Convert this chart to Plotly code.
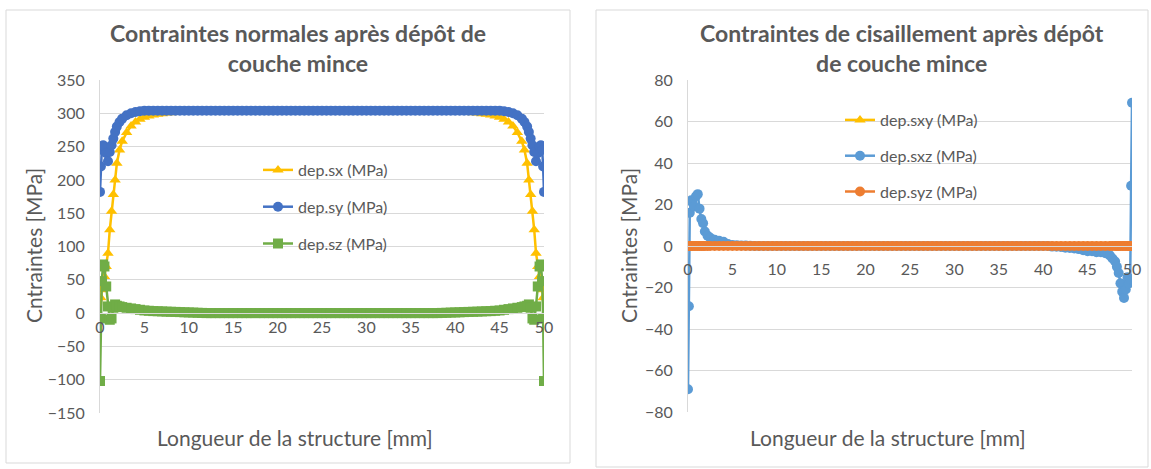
import plotly.graph_objects as go

# positions along the structure [mm]
X_MM = [0, 0.1, 0.2, 0.35, 0.5, 0.7, 0.9, 1.1, 1.3, 1.5, 1.7, 1.9, 2.2, 2.5, 3, 3.5, 4, 4.5,
        5, 5.5, 6, 6.5, 7, 7.5, 8, 8.5, 9, 9.5,
        10, 10.5, 11, 11.5, 12, 12.5, 13, 13.5, 14, 14.5,
        15, 15.5, 16, 16.5, 17, 17.5, 18, 18.5, 19, 19.5,
        20, 20.5, 21, 21.5, 22, 22.5, 23, 23.5, 24, 24.5,
        25, 25.5, 26, 26.5, 27, 27.5, 28, 28.5, 29, 29.5,
        30, 30.5, 31, 31.5, 32, 32.5, 33, 33.5, 34, 34.5,
        35, 35.5, 36, 36.5, 37, 37.5, 38, 38.5, 39, 39.5,
        40, 40.5, 41, 41.5, 42, 42.5, 43, 43.5, 44, 44.5,
        45,
        45.5, 46, 46.5, 47, 47.5, 47.8, 48.1, 48.3, 48.5, 48.7, 48.9, 49.1, 49.3, 49.5, 49.65, 49.8, 49.9, 50]

# normal stresses (MPa)
SX = [-8, 23, 35, 43, 55, 70, 90, 125, 153, 178, 200, 225, 245, 258, 271, 281, 287, 291,
      294, 296, 297.5, 298.5, 299.5, 300.5, 301, 301.5, 302, 302.5,
      303, 303, 303, 303, 303, 303, 303, 303, 303, 303,
      303, 303, 303, 303, 303, 303, 303, 303, 303, 303,
      303, 303, 303, 303, 303, 303, 303, 303, 303, 303,
      303, 303, 303, 303, 303, 303, 303, 303, 303, 303,
      303, 303, 303, 303, 303, 303, 303, 303, 303, 303,
      303, 303, 303, 303, 303, 303, 303, 303, 303, 303,
      303, 302.5, 302, 301.5, 301, 300.5, 299.5, 298.5, 297.5, 296,
      294,
      291, 287, 281, 271, 258, 245, 225, 200, 178, 153, 125, 90, 70, 55, 43, 35, 23, -8]
SY = [182, 220, 245, 252, 250, 240, 228, 242, 252, 262, 272, 280, 287, 292, 297, 300, 302, 303,
      304, 304, 304, 304, 304, 304, 304, 304, 304, 304,
      304, 304, 304, 304, 304, 304, 304, 304, 304, 304,
      304, 304, 304, 304, 304, 304, 304, 304, 304, 304,
      304, 304, 304, 304, 304, 304, 304, 304, 304, 304,
      304, 304, 304, 304, 304, 304, 304, 304, 304, 304,
      304, 304, 304, 304, 304, 304, 304, 304, 304, 304,
      304, 304, 304, 304, 304, 304, 304, 304, 304, 304,
      304, 304, 304, 304, 304, 304, 304, 304, 304, 304,
      304,
      303, 302, 300, 297, 292, 287, 280, 272, 262, 252, 242, 228, 240, 250, 252, 245, 220, 182]
SZ = [-102, -8, 48, 73, 70, 40, 10, -10, -8, 8, 13, 11, 10, 9, 8, 7, 6, 5,
      4, 3.5, 3, 2.8, 2.5, 2.2, 2, 1.8, 1.5, 1.2,
      1, 0.8, 0.5, 0.3, 0, 0, 0, 0, 0, 0,
      0, 0, 0, 0, 0, 0, 0, 0, 0, 0,
      0, 0, 0, 0, 0, 0, 0, 0, 0, 0,
      0, 0, 0, 0, 0, 0, 0, 0, 0, 0,
      0, 0, 0, 0, 0, 0, 0, 0, 0, 0,
      0, 0, 0, 0, 0, 0, 0, 0.3, 0.5, 0.8,
      1, 1.2, 1.5, 1.8, 2, 2.2, 2.5, 2.8, 3, 3.5,
      4,
      5, 6, 7, 8, 9, 10, 11, 13, 8, -8, -10, 10, 40, 70, 73, 48, -8, -102]

# shear stresses (MPa)
SXY = [0, 0, 0, 0, 0, 0, 0, 0, 0, 0, 0, 0, 0, 0, 0, 0, 0, 0,
       0, 0, 0, 0, 0, 0, 0, 0, 0, 0,
       0, 0, 0, 0, 0, 0, 0, 0, 0, 0,
       0, 0, 0, 0, 0, 0, 0, 0, 0, 0,
       0, 0, 0, 0, 0, 0, 0, 0, 0, 0,
       0, 0, 0, 0, 0, 0, 0, 0, 0, 0,
       0, 0, 0, 0, 0, 0, 0, 0, 0, 0,
       0, 0, 0, 0, 0, 0, 0, 0, 0, 0,
       0, 0, 0, 0, 0, 0, 0, 0, 0, 0,
       0,
       0, 0, 0, 0, 0, 0, 0, 0, 0, 0, 0, 0, 0, 0, 0, 0, 0, 0]
SXZ = [-69, -29, 16, 22, 21, 19, 24, 25, 18, 13, 11, 7, 5, 4, 3, 2.5, 2, 1,
       0.5, 0.4, 0.3, 0.2, 0.1, 0, 0, 0, 0, 0,
       0, 0, 0, 0, 0, 0, 0, 0, 0, 0,
       0, 0, 0, 0, 0, 0, 0, 0, 0, 0,
       0, 0, 0, 0, 0, 0, 0, 0, 0, 0,
       0, 0, 0, 0, 0, 0, 0, 0, 0, 0,
       0, 0, 0, 0, 0, 0, 0, 0, 0, 0,
       0, 0, 0, 0, 0, 0, 0, 0, 0, 0,
       0, 0, -0.3, -0.4, -0.5, -0.8, -1, -1.2, -1.5, -2,
       -2.5,
       -2.5, -3, -3, -3.5, -4.5, -6, -7.5, -10, -13, -18, -22, -25, -21, -15, -18, -16, 29, 69]
SYZ = [0, 0, 0, 0, 0, 0, 0, 0, 0, 0, 0, 0, 0, 0, 0, 0, 0, 0,
       0, 0, 0, 0, 0, 0, 0, 0, 0, 0,
       0, 0, 0, 0, 0, 0, 0, 0, 0, 0,
       0, 0, 0, 0, 0, 0, 0, 0, 0, 0,
       0, 0, 0, 0, 0, 0, 0, 0, 0, 0,
       0, 0, 0, 0, 0, 0, 0, 0, 0, 0,
       0, 0, 0, 0, 0, 0, 0, 0, 0, 0,
       0, 0, 0, 0, 0, 0, 0, 0, 0, 0,
       0, 0, 0, 0, 0, 0, 0, 0, 0, 0,
       0,
       0, 0, 0, 0, 0, 0, 0, 0, 0, 0, 0, 0, 0, 0, 0, 0, 0, 0]

X_TICKS = [0, 5, 10, 15, 20, 25, 30, 35, 40, 45, 50]

W, H = 1151, 469
FONT = "Lato"
GREY = "#595959"
GRID = "#D9D9D9"


def px_x(p):
    return p / W


def px_y(p):
    return 1 - p / H


def serie(y, name, color, symbol, xa, ya, legend):
    return go.Scatter(x=X_MM, y=y, name=name, mode="lines+markers",
                      line=dict(color=color, width=2.5),
                      marker=dict(color=color, symbol=symbol, size=10),
                      xaxis=xa, yaxis=ya, legend=legend, legendgroup=name)


fig = go.Figure()
fig.add_trace(serie(SX, "dep.sx (MPa)", "#FFC000", "triangle-up", "x", "y", "legend"))
fig.add_trace(serie(SY, "dep.sy (MPa)", "#4472C4", "circle", "x", "y", "legend"))
fig.add_trace(serie(SZ, "dep.sz (MPa)", "#70AD47", "square", "x", "y", "legend"))
fig.add_trace(serie(SXY, "dep.sxy (MPa)", "#FFC000", "triangle-up", "x2", "y2", "legend2"))
fig.add_trace(serie(SXZ, "dep.sxz (MPa)", "#5B9BD5", "circle", "x2", "y2", "legend2"))
fig.add_trace(serie(SYZ, "dep.syz (MPa)", "#ED7D31", "circle", "x2", "y2", "legend2"))

tick_font = dict(family=FONT, size=16, color=GREY)
xcommon = dict(range=[0, 50], tickvals=X_TICKS, showgrid=False, zeroline=False, automargin=False,
               showline=True, linecolor=GRID, ticks="", tickfont=tick_font)
ycommon = dict(showgrid=True, gridcolor=GRID, zeroline=False, showline=True, automargin=False,
               linecolor=GRID, ticks="", tickfont=tick_font, ticklabelstandoff=11)
leg_font = dict(family=FONT, size=16, color=GREY)

fig.update_layout(
    width=W, height=H,
    margin=dict(l=0, r=0, t=0, b=0, pad=0, autoexpand=False),
    paper_bgcolor="white", plot_bgcolor="white",
    xaxis=dict(xcommon, domain=[px_x(100), px_x(544)], anchor="free", position=px_y(313)),
    yaxis=dict(ycommon, domain=[px_y(413), px_y(80)], range=[-150, 350], dtick=50, anchor="x"),
    xaxis2=dict(xcommon, domain=[px_x(688), px_x(1132)], anchor="free", position=px_y(246),
                ticklabelstandoff=9),
    yaxis2=dict(ycommon, domain=[px_y(412), px_y(80)], range=[-80, 80], dtick=20, anchor="x2"),
    legend=dict(x=px_x(258), y=px_y(153), xanchor="left", yanchor="top", font=leg_font,
                bgcolor="rgba(0,0,0,0)", tracegroupgap=13, traceorder="grouped"),
    legend2=dict(x=px_x(840), y=px_y(103), xanchor="left", yanchor="top", font=leg_font,
                 bgcolor="rgba(0,0,0,0)", tracegroupgap=12, traceorder="grouped"),
    shapes=[
        dict(type="rect", xref="paper", yref="paper", x0=px_x(6), x1=px_x(570),
             y0=px_y(463), y1=px_y(10), line=dict(color=GRID, width=1)),
        dict(type="rect", xref="paper", yref="paper", x0=px_x(596), x1=px_x(1148),
             y0=px_y(467), y1=px_y(10), line=dict(color=GRID, width=1)),
    ],
)

title_font = dict(family=FONT, size=23, color=GREY)
label_font = dict(family=FONT, size=21, color=GREY)
annots = [
    (298, 48, "<b>Contraintes normales après dépôt de<br>couche mince</b>", title_font, 0),
    (902, 48, "<b>Contraintes de cisaillement après dépôt<br>de couche mince</b>", title_font, 0),
    (33, 246, "Cntraintes [MPa]", label_font, -90),
    (628, 246, "Cntraintes [MPa]", label_font, -90),
    (295, 437, "Longueur de la structure [mm]", label_font, 0),
    (888, 437, "Longueur de la structure [mm]", label_font, 0),
]
for ax, ay, txt, fnt, ang in annots:
    fig.add_annotation(x=px_x(ax), y=px_y(ay), xref="paper", yref="paper", text=txt,
                       showarrow=False, font=fnt, textangle=ang,
                       xanchor="center", yanchor="middle", align="center")

fig.write_html("out.html", config={"displayModeBar": False},
               post_script="document.body.style.margin='0';document.body.style.overflow='hidden';")
